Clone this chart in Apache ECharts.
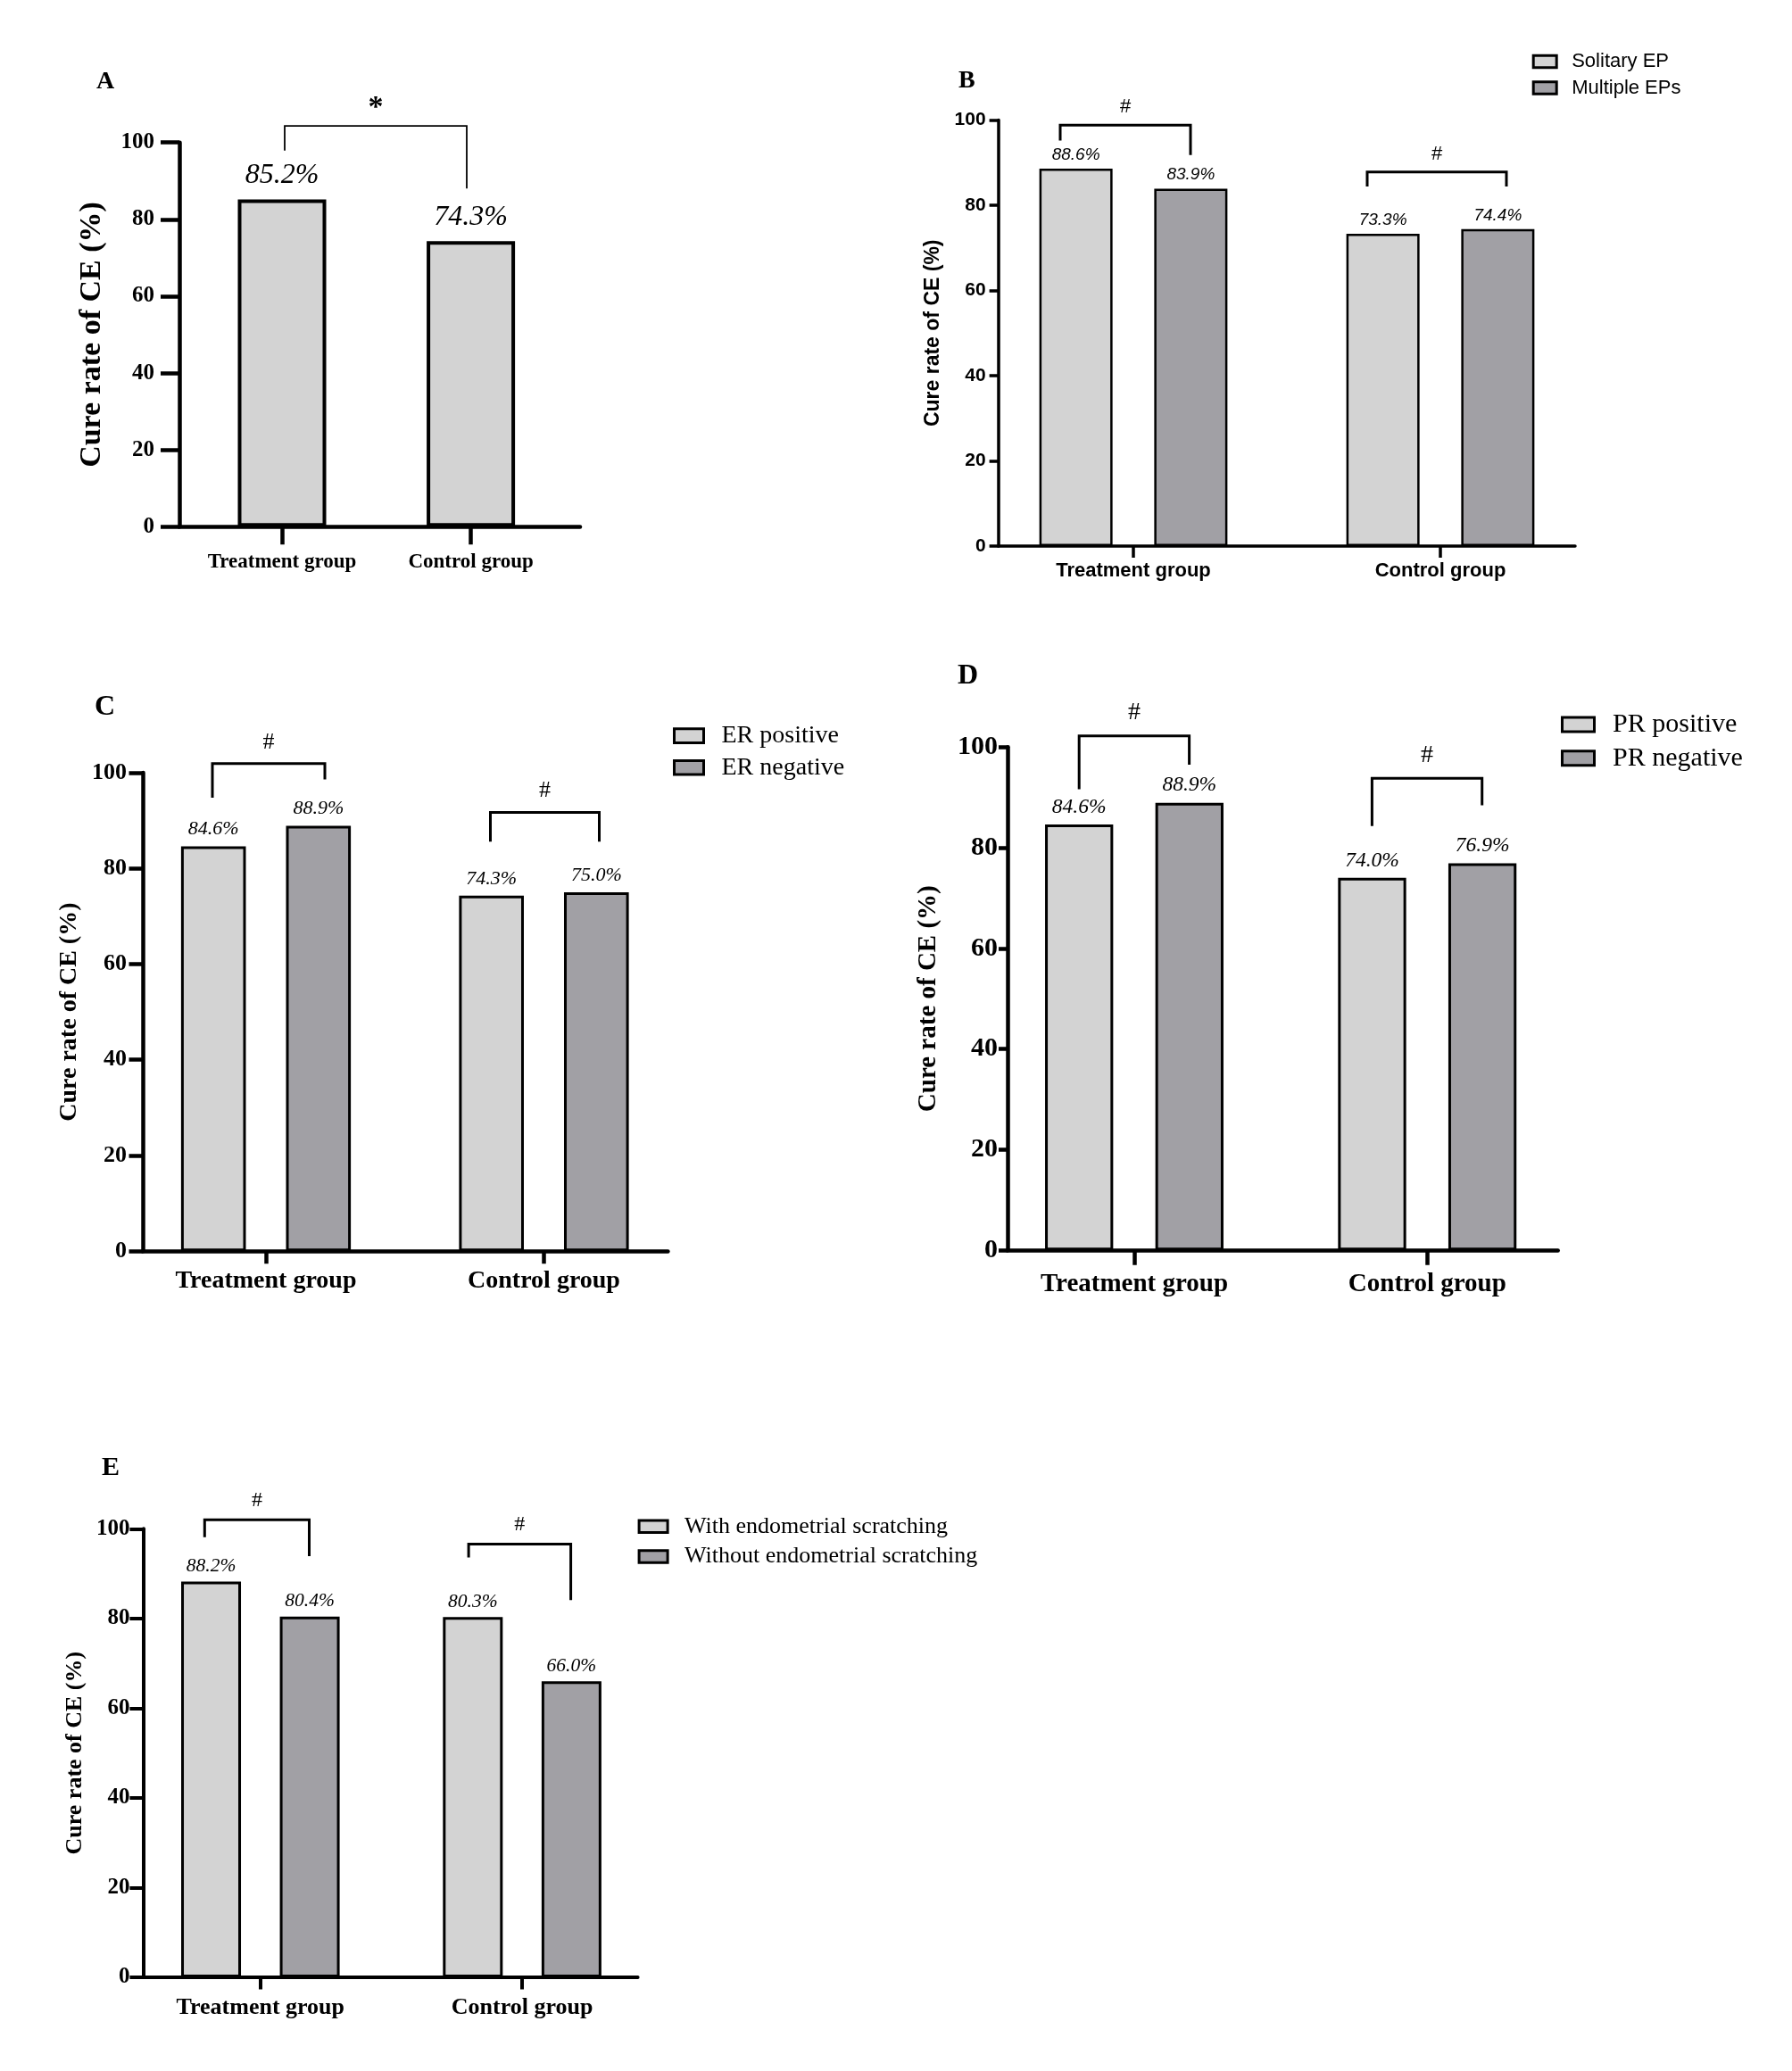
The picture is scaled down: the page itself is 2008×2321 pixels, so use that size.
<!DOCTYPE html>
<html>
<head>
<meta charset="utf-8">
<script src="https://cdn.jsdelivr.net/npm/echarts@6/dist/echarts.min.js"></script>
<style>
html,body{margin:0;padding:0;background:#fff;}
#chart{width:2008px;height:2321px;}
</style>
</head>
<body>
<div id="chart"></div>
<script>
// ---------------- data ----------------
const categories = ['Treatment group', 'Control group'];
const yMin = 0, yMax = 100, yInterval = 20;
const yAxisName = 'Cure rate of CE (%)';

const overallCure = [85.2, 74.3];                 // A
const solitaryEP = [88.6, 73.3];                  // B
const multipleEPs = [83.9, 74.4];
const erPositive = [84.6, 74.3];                  // C
const erNegative = [88.9, 75.0];
const prPositive = [84.6, 74.0];                  // D
const prNegative = [88.9, 76.9];
const withScratching = [88.2, 80.3];              // E
const withoutScratching = [80.4, 66.0];

// brackets: [left category, right category, top value, left leg end, right leg end]
const bracketsA = [[0, 1, 104.3, 97.9, 88.0]];
const bracketsB = [[0, 0, 98.8, 95.2, 91.8], [1, 1, 87.8, 84.4, 84.4]];
const bracketsC = [[0, 0, 101.9, 94.8, 98.6], [1, 1, 91.7, 85.6, 85.6]];
const bracketsD = [[0, 0, 102.2, 91.6, 96.5], [1, 1, 93.8, 84.3, 88.4]];
const bracketsE = [[0, 0, 102.0, 98.1, 93.9], [1, 1, 96.6, 93.6, 84.1]];

// ---------------- styles / layout ----------------
const SERIF = '"Liberation Serif", "Times New Roman", serif';
const SANS = '"Liberation Sans", Arial, sans-serif';
const LIGHT = '#d3d3d3';
const DARK = '#a1a0a5';

const panels = [
  { title: 'A', tL: 108, tT: 78, tS: 28, font: SERIF,
    axisL: 201, axisR: 650, top: 159.7, bottom: 590.3, barsL: 210.2, barsW: 423.2,
    axisW: 4.5, yTickLen: 21, yLabelSize: 25, yLabelMargin: 28, nameSize: 34, nameGap: 81,
    catSize: 23, catMargin: 28, catTickLen: 20,
    barW: 99, barBorder: 4, barGap: '0%', labelSize: 32, labelDist: 11,
    series: [{ name: 'Cure rate', data: overallCure, color: LIGHT }],
    brackets: bracketsA, bOff: [[3, -4.6]], bW: 1.8, mark: '*', markSize: 34, markBold: true, markGap: 20,
    legend: null },
  { title: 'B', tL: 1074, tT: 77, tS: 28, font: SANS,
    axisL: 1118.6, axisR: 1765, top: 134.6, bottom: 612, barsL: 1098, barsW: 688,
    axisW: 3.5, yTickLen: 10, yLabelSize: 21, yLabelMargin: 14, nameSize: 23, nameGap: 61,
    catSize: 22, catMargin: 17, catTickLen: 13,
    barW: 82, barBorder: 2.5, barGap: '57%', labelSize: 19, labelDist: 6,
    series: [{ name: 'Solitary EP', data: solitaryEP, color: LIGHT },
             { name: 'Multiple EPs', data: multipleEPs, color: DARK }],
    brackets: bracketsB, bOff: [[-82, 64], [-82, 74]], bW: 3, mark: '#', markSize: 22, markBold: false, markGap: 20,
    legend: { left: 1716.7, top: 58, w: 26, h: 13.5, gap: 7.6, size: 22, pad: 12, font: SANS } },
  { title: 'C', tL: 106, tT: 777, tS: 32, font: SERIF,
    axisL: 160, axisR: 748.4, top: 866, bottom: 1402.2, barsL: 142.25, barsW: 623,
    axisW: 4.5, yTickLen: 15.5, yLabelSize: 26, yLabelMargin: 18, nameSize: 28, nameGap: 68,
    catSize: 28, catMargin: 20, catTickLen: 14,
    barW: 72.6, barBorder: 3, barGap: '62%', labelSize: 22, labelDist: 8,
    series: [{ name: 'ER positive', data: erPositive, color: LIGHT },
             { name: 'ER negative', data: erNegative, color: DARK }],
    brackets: bracketsC, bOff: [[-60, 66], [-60, 62]], bW: 3, mark: '#', markSize: 26, markBold: false, markGap: 24,
    legend: { left: 754, top: 810.6, w: 33, h: 15.6, gap: 7.7, size: 28, pad: 15, font: SERIF } },
  { title: 'D', tL: 1073, tT: 742, tS: 32, font: SERIF,
    axisL: 1129, axisR: 1745.7, top: 837.2, bottom: 1401.2, barsL: 1106.85, barsW: 656.6,
    axisW: 4.5, yTickLen: 10, yLabelSize: 30, yLabelMargin: 11, nameSize: 29, nameGap: 73.5,
    catSize: 29, catMargin: 23.5, catTickLen: 16.5,
    barW: 76.3, barBorder: 3, barGap: '62%', labelSize: 23.5, labelDist: 8,
    series: [{ name: 'PR positive', data: prPositive, color: LIGHT },
             { name: 'PR negative', data: prNegative, color: DARK }],
    brackets: bracketsD, bOff: [[-61.8, 61.6], [-61.9, 61.4]], bW: 3, mark: '#', markSize: 28, markBold: false, markGap: 26,
    legend: { left: 1749, top: 797, w: 36, h: 16, gap: 7.8, size: 30, pad: 15.6, font: SERIF } },
  { title: 'E', tL: 114, tT: 1630, tS: 30, font: SERIF,
    axisL: 160.4, axisR: 714.6, top: 1713.3, bottom: 2216, barsL: 145.15, barsW: 586.6,
    axisW: 4, yTickLen: 15, yLabelSize: 25, yLabelMargin: 15, nameSize: 26, nameGap: 63,
    catSize: 26, catMargin: 21.5, catTickLen: 13.5,
    barW: 67, barBorder: 3, barGap: '65%', labelSize: 21.5, labelDist: 6,
    series: [{ name: 'With endometrial scratching', data: withScratching, color: LIGHT },
             { name: 'Without endometrial scratching', data: withoutScratching, color: DARK }],
    brackets: bracketsE, bOff: [[-62.5, 54.7], [-60, 54.5]], bW: 3, mark: '#', markSize: 24, markBold: false, markGap: 22,
    legend: { left: 714.6, top: 1697.8, w: 32, h: 13.5, gap: 7.7, size: 26, pad: 14, font: SERIF } }
];

// ---------------- build option ----------------
const option = {
  backgroundColor: '#ffffff',
  animation: false,
  title: [], grid: [], xAxis: [], yAxis: [], series: [], legend: []
};

function bracketRenderer(p) {
  return function (params, api) {
    const off = p.bOff[params.dataIndex];
    const pl = api.coord([api.value(0), api.value(2)]);
    const pr = api.coord([api.value(1), api.value(2)]);
    const xl = pl[0] + off[0];
    const xr = pr[0] + off[1];
    const yT = pl[1];
    const yL = api.coord([api.value(0), api.value(3)])[1];
    const yR = api.coord([api.value(1), api.value(4)])[1];
    return {
      type: 'group',
      children: [
        { type: 'polyline', shape: { points: [[xl, yL], [xl, yT], [xr, yT], [xr, yR]] },
          style: { stroke: '#000', lineWidth: p.bW, fill: null } },
        { type: 'text',
          style: { text: p.mark, x: (xl + xr) / 2, y: yT - p.markGap, fill: '#000',
                   fontSize: p.markSize, fontFamily: p.font, fontWeight: p.markBold ? 'bold' : 'normal',
                   align: 'center', verticalAlign: 'middle' } }
      ]
    };
  };
}

panels.forEach(function (p, k) {
  const gA = 2 * k, gB = 2 * k + 1;
  const h = p.bottom - p.top;
  option.title.push({ text: p.title, left: p.tL, top: p.tT, padding: 0,
    textStyle: { fontFamily: SERIF, fontWeight: 'bold', fontSize: p.tS, color: '#000' } });

  option.grid.push({ left: p.axisL, top: p.top, width: p.axisR - p.axisL, height: h, outerBoundsMode: 'none', containLabel: false });
  option.grid.push({ left: p.barsL, top: p.top, width: p.barsW, height: h, outerBoundsMode: 'none', containLabel: false });

  // axes grid: visible axis lines + y ticks
  option.xAxis.push({ gridIndex: gA, type: 'value', min: 0, max: 1, show: true,
    axisLine: { show: true, onZero: false, lineStyle: { color: '#000', width: p.axisW } },
    axisTick: { show: false }, axisLabel: { show: false }, splitLine: { show: false } });
  option.yAxis.push({ gridIndex: gA, type: 'value', min: yMin, max: yMax, interval: yInterval,
    name: yAxisName, nameLocation: 'middle', nameRotate: 90, nameGap: p.nameGap,
    nameTextStyle: { fontFamily: p.font, fontWeight: 'bold', fontSize: p.nameSize, color: '#000' },
    axisLine: { show: true, onZero: false, lineStyle: { color: '#000', width: p.axisW } },
    axisTick: { show: true, length: p.yTickLen, lineStyle: { color: '#000', width: p.axisW } },
    axisLabel: { show: true, margin: p.yLabelMargin, fontFamily: p.font, fontWeight: 'bold',
                 fontSize: p.yLabelSize, color: '#000' },
    splitLine: { show: false } });

  // bars grid: categories
  option.xAxis.push({ gridIndex: gB, type: 'category', data: categories,
    axisLine: { show: false },
    axisTick: { show: true, alignWithLabel: true, length: p.catTickLen, lineStyle: { color: '#000', width: p.axisW } },
    axisLabel: { show: true, margin: p.catMargin, fontFamily: p.font, fontWeight: 'bold',
                 fontSize: p.catSize, color: '#000', interval: 0 },
    splitLine: { show: false } });
  option.yAxis.push({ gridIndex: gB, type: 'value', min: yMin, max: yMax, interval: yInterval, show: false });

  p.series.forEach(function (s) {
    option.series.push({
      type: 'bar', name: s.name, xAxisIndex: gB, yAxisIndex: gB, data: s.data,
      barWidth: p.barW, barGap: p.barGap,
      itemStyle: { color: s.color, borderColor: '#000', borderWidth: p.barBorder },
      label: { show: true, position: 'top', distance: p.labelDist, color: '#000',
               fontFamily: p.font, fontStyle: 'italic', fontSize: p.labelSize,
               formatter: function (v) { return v.value.toFixed(1) + '%'; } },
      emphasis: { disabled: true }
    });
  });

  option.series.push({
    type: 'custom', xAxisIndex: gB, yAxisIndex: gB, clip: false, silent: true,
    encode: { x: [0, 1], y: [2, 3, 4] },
    data: p.brackets, renderItem: bracketRenderer(p), z: 5
  });

  if (p.legend) {
    const L = p.legend;
    option.legend.push({
      data: p.series.map(function (s) { return s.name; }),
      orient: 'vertical', left: L.left, top: L.top, padding: 0,
      itemWidth: L.w, itemHeight: L.h, itemGap: L.gap, icon: 'rect',
      itemStyle: { borderColor: '#000', borderWidth: 3 },
      textStyle: { fontFamily: L.font, fontSize: L.size, color: '#000', padding: [0, 0, 0, L.pad] },
      selectedMode: false
    });
  }
});

const chart = echarts.init(document.getElementById('chart'), null, { renderer: 'canvas' });
chart.setOption(option);
</script>
</body>
</html>
